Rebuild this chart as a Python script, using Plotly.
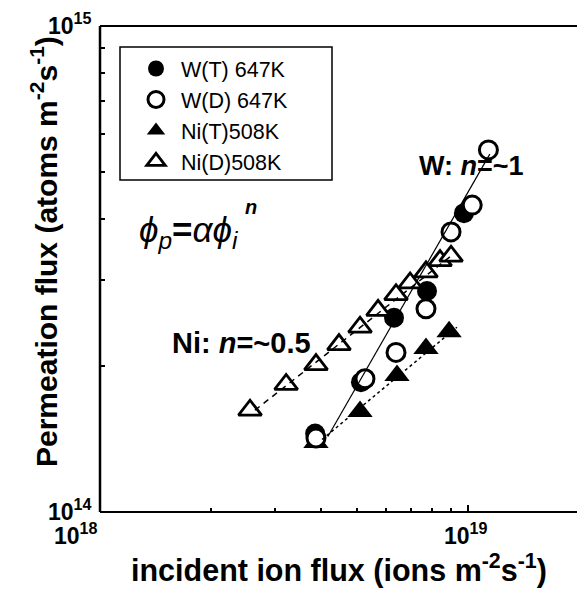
import math
import plotly.graph_objects as go

# Incident ion flux (ions m^-2 s^-1) and permeation flux (atoms m^-2 s^-1)
w_t_flux = [3.85e18, 5.13e18, 6.31e18, 7.76e18, 9.78e18]
w_t_perm = [1.45e14, 1.85e14, 2.51e14, 2.85e14, 4.12e14]

w_d_flux = [3.87e18, 5.26e18, 6.39e18, 7.71e18, 9.02e18, 1.03e19, 1.14e19]
w_d_perm = [1.42e14, 1.88e14, 2.13e14, 2.62e14, 3.77e14, 4.28e14, 5.56e14]

ni_t_flux = [3.87e18, 5.10e18, 6.43e18, 7.71e18, 8.91e18]
ni_t_perm = [1.39e14, 1.61e14, 1.91e14, 2.17e14, 2.35e14]

ni_d_flux = [2.56e18, 3.21e18, 3.87e18, 4.47e18, 5.10e18, 5.71e18,
             6.39e18, 6.98e18, 7.71e18, 8.42e18, 9.02e18]
ni_d_perm = [1.62e14, 1.83e14, 2.01e14, 2.21e14, 2.40e14, 2.60e14,
             2.80e14, 2.96e14, 3.12e14, 3.29e14, 3.36e14]

# Power-law fit lines (end points)
w_fit_flux = [4.17e18, 1.15e19]
w_fit_perm = [1.43e14, 5.45e14]
ni_d_fit_flux = [2.64e18, 8.96e18]
ni_d_fit_perm = [1.62e14, 3.35e14]
ni_t_fit_flux = [4.02e18, 9.36e18]
ni_t_fit_perm = [1.41e14, 2.40e14]

# Axis ticks
x_major = [1e18, 1e19]
x_major_text = ["<b>10<sup>18</sup></b>", "<b>10<sup>19</sup></b>"]
x_minor = [k * 1e18 for k in range(2, 10)]
y_major = [1e14, 1e15]
y_major_text = ["<b>10<sup>14</sup></b>", "<b>10<sup>15</sup></b>"]
y_minor = [k * 1e14 for k in range(2, 10)]

FONT = "Liberation Sans, Arial, sans-serif"
W, H = 577, 590
ML, MR, MT, MB = 100, 0, 26, 78
PW, PH = W - ML - MR, H - MT - MB
DECADE_PX = 367.5


def px(x):
    return (x - ML) / PW


def py(y):
    return (H - MB - y) / PH


fig = go.Figure()

# markers
fig.add_trace(go.Scatter(
    x=w_t_flux, y=w_t_perm, mode="markers", name="W(T) 647K", legendrank=1,
    marker=dict(symbol="circle", size=20, color="black", line=dict(width=0))))
fig.add_trace(go.Scatter(
    x=ni_t_flux, y=ni_t_perm, mode="markers", name="Ni(T)508K", legendrank=3,
    marker=dict(symbol="triangle-up", size=22, color="black", line=dict(width=0))))
fig.add_trace(go.Scatter(
    x=w_d_flux, y=w_d_perm, mode="markers", name="W(D) 647K", legendrank=2,
    marker=dict(symbol="circle", size=18, color="white",
                line=dict(width=3, color="black"))))
fig.add_trace(go.Scatter(
    x=ni_d_flux, y=ni_d_perm, mode="markers", name="Ni(D)508K", legendrank=4,
    marker=dict(symbol="triangle-up", size=20, color="white",
                line=dict(width=2.8, color="black"))))

# fit lines
fig.add_trace(go.Scatter(x=w_fit_flux, y=w_fit_perm, mode="lines", showlegend=False,
                         line=dict(color="black", width=1.2)))
fig.add_trace(go.Scatter(x=ni_d_fit_flux, y=ni_d_fit_perm, mode="lines", showlegend=False,
                         line=dict(color="black", width=1.5, dash="6px,5px")))
fig.add_trace(go.Scatter(x=ni_t_fit_flux, y=ni_t_fit_perm, mode="lines", showlegend=False,
                         line=dict(color="black", width=1.5, dash="3px,3px")))

TICK_FONT = dict(family=FONT, size=23, color="black")
annotations = []
# tick labels
annotations.append(dict(xref="x", yref="paper", x=math.log10(x_major[0]), y=0,
                        xanchor="right", yanchor="top", xshift=0, yshift=-5,
                        text=x_major_text[0], showarrow=False, font=TICK_FONT))
annotations.append(dict(xref="x", yref="paper", x=math.log10(x_major[1]), y=0,
                        xanchor="center", yanchor="top", xshift=-2, yshift=-5,
                        text=x_major_text[1], showarrow=False, font=TICK_FONT))
for v, t in zip(y_major, y_major_text):
    annotations.append(dict(xref="paper", yref="y", x=0, y=math.log10(v),
                            xanchor="right", yanchor="middle", xshift=-6, yshift=2,
                            text=t, showarrow=False, font=TICK_FONT))

# axis titles
annotations.append(dict(xref="paper", yref="paper", x=px(44), y=py(252),
                        xanchor="center", yanchor="middle", textangle=-90,
                        text="<b>Permeation flux (atoms m<sup>-2</sup>s<sup>-1</sup>)</b>",
                        showarrow=False, font=dict(family=FONT, size=30, color="black")))
annotations.append(dict(xref="paper", yref="paper", x=px(339), y=py(568),
                        xanchor="center", yanchor="middle",
                        text="<b>incident ion flux (ions m<sup>-2</sup>s<sup>-1</sup>)</b>",
                        showarrow=False, font=dict(family=FONT, size=30.5, color="black")))

# text labels inside the plot
annotations.append(dict(xref="paper", yref="paper", x=px(471), y=py(166),
                        xanchor="center", yanchor="middle",
                        text="<b>W: <i>n</i>=~1</b>", showarrow=False,
                        font=dict(family=FONT, size=27, color="black")))
annotations.append(dict(xref="paper", yref="paper", x=px(241), y=py(343),
                        xanchor="center", yanchor="middle",
                        text="<b>Ni: <i>n</i>=~0.5</b>", showarrow=False,
                        font=dict(family=FONT, size=29, color="black")))
annotations.append(dict(xref="paper", yref="paper", x=px(137), y=py(232),
                        xanchor="left", yanchor="middle",
                        text="<i>ϕ<sub>p</sub></i><b>=</b><i>αϕ<sub>i</sub></i>",
                        showarrow=False,
                        font=dict(family=FONT, size=35, color="black")))
annotations.append(dict(xref="paper", yref="paper", x=px(251), y=py(207),
                        xanchor="center", yanchor="middle",
                        text="<b><i>n</i></b>", showarrow=False,
                        font=dict(family=FONT, size=20, color="black")))

fig.update_layout(
    width=W, height=H,
    margin=dict(l=ML, r=MR, t=MT, b=MB, pad=0),
    paper_bgcolor="white", plot_bgcolor="white",
    font=dict(family=FONT, color="black"),
    annotations=annotations,
    shapes=[
        # legend frame
        dict(type="rect", xref="paper", yref="paper",
             x0=px(120), x1=px(332), y0=py(180), y1=py(47),
             line=dict(color="black", width=1.5), fillcolor="rgba(0,0,0,0)"),
        # frame lines: top, left, bottom
        dict(type="line", xref="paper", yref="paper", x0=0, x1=1, y0=1, y1=1,
             line=dict(color="black", width=2)),
        dict(type="line", xref="paper", yref="paper", x0=0, x1=0, y0=0, y1=1,
             line=dict(color="black", width=2.5)),
        dict(type="line", xref="paper", yref="paper", x0=0, x1=1, y0=0, y1=0,
             line=dict(color="black", width=2)),
    ],
    legend=dict(x=px(131), y=py(48), xanchor="left", yanchor="top",
                bgcolor="rgba(0,0,0,0)", borderwidth=0, itemwidth=40,
                font=dict(family=FONT, size=21.5, color="black"),
                traceorder="normal"),
    xaxis=dict(type="log", range=[18, 18 + PW / DECADE_PX],
               showline=False, mirror=False,
               showgrid=False, zeroline=False,
               tickmode="array", tickvals=x_major, ticktext=["", ""],
               showticklabels=False,
               ticks="inside", ticklen=7, tickwidth=1.5, tickcolor="black",
               minor=dict(tickmode="array", tickvals=x_minor, ticks="inside",
                          ticklen=4, tickwidth=1.5, tickcolor="black", showgrid=False)),
    yaxis=dict(type="log", range=[14, 15],
               showline=False, mirror=False,
               showgrid=False, zeroline=False,
               tickmode="array", tickvals=y_major, ticktext=["", ""],
               showticklabels=False,
               ticks="inside", ticklen=6, tickwidth=1.5, tickcolor="black",
               minor=dict(tickmode="array", tickvals=y_minor, ticks="inside",
                          ticklen=5, tickwidth=1.5, tickcolor="black", showgrid=False)),
)

fig.write_html("out.html")
